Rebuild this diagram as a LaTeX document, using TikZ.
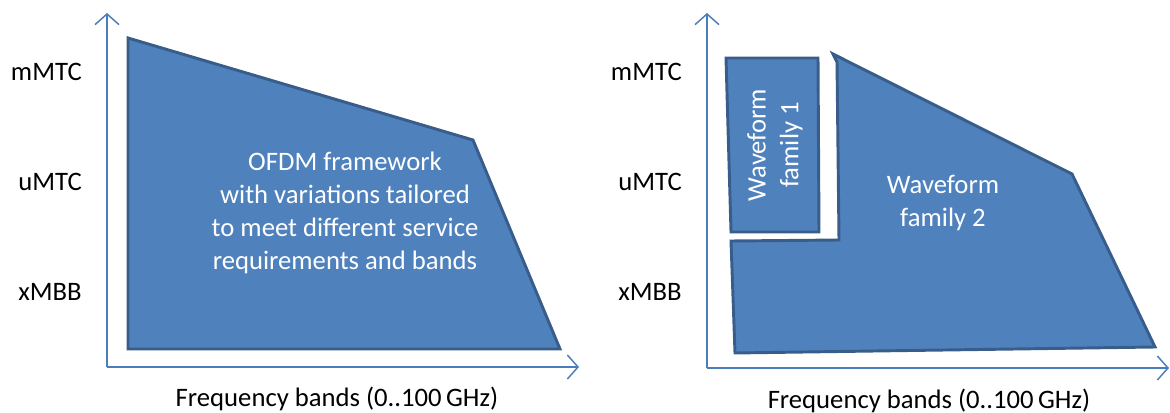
\documentclass[tikz,border=0pt]{standalone}
\usepackage{fontspec}
\setmainfont{Carlito}
\usetikzlibrary{arrows.meta}
\definecolor{fillblue}{HTML}{4F81BD}
\definecolor{edgeblue}{HTML}{385D8A}
\definecolor{axisblue}{HTML}{4A7EBB}
\tikzset{
  shapebox/.style={fill=fillblue, draw=edgeblue, line width=2.2pt, line join=miter},
  axisline/.style={draw=axisblue, line width=1.1pt, -{Straight Barb[length=8pt,width=18pt,line width=1.1pt]}},
  lbl/.style={font=\fontsize{20}{24}\selectfont, text=black, inner sep=0pt},
  intext/.style={font=\fontsize{20}{24.6}\selectfont, text=white, align=center, inner sep=0pt}
}
\begin{document}
\begin{tikzpicture}[x=0.75pt,y=-0.75pt]
\useasboundingbox (0,0) rectangle (1170,413);
% left panel axes
\coordinate (lo) at (107,367);
\coordinate (ly) at (107,13);
\coordinate (lx) at (579,367);
\draw[axisline] (lo) -- (ly);
\draw[axisline] (lo) -- (lx);
% left polygon
\draw[shapebox] (128,38) -- (473,140) -- (560,349) -- (128,349) -- cycle;
\node[intext] (ofdm) at (345,213) {OFDM framework\\with variations tailored\\to meet different service\\requirements and bands};
\node[lbl, anchor=east] (lm) at (82,72) {mMTC};
\node[lbl, anchor=east] (lu) at (82,182) {uMTC};
\node[lbl, anchor=east] (lx1) at (82,292) {xMBB};
\node[lbl] (lf) at (337,399) {Frequency bands (0..100\,GHz)};
% right panel axes
\coordinate (ro) at (707,368);
\coordinate (ry) at (707,13);
\coordinate (rx) at (1169,368);
\draw[axisline] (ro) -- (ry);
\draw[axisline] (ro) -- (rx);
% waveform family 1
\draw[shapebox] (726,58) -- (818,58) -- (819,232) -- (731,232) -- cycle;
\node[intext, rotate=90] (wf1) at (775,145) {Waveform\\family 1};
% waveform family 2
\draw[shapebox] (833,54) -- (1072,174) -- (1155,347) -- (735,353) -- (731,241) -- (839,240) -- (837,62) -- cycle;
\node[intext] (wf2) at (943,203) {Waveform\\family 2};
\node[lbl, anchor=east] (rm) at (682,72) {mMTC};
\node[lbl, anchor=east] (ru) at (682,182) {uMTC};
\node[lbl, anchor=east] (rx2) at (682,292) {xMBB};
\node[lbl] (rf) at (929,401) {Frequency bands (0..100\,GHz)};
\end{tikzpicture}
\end{document}
